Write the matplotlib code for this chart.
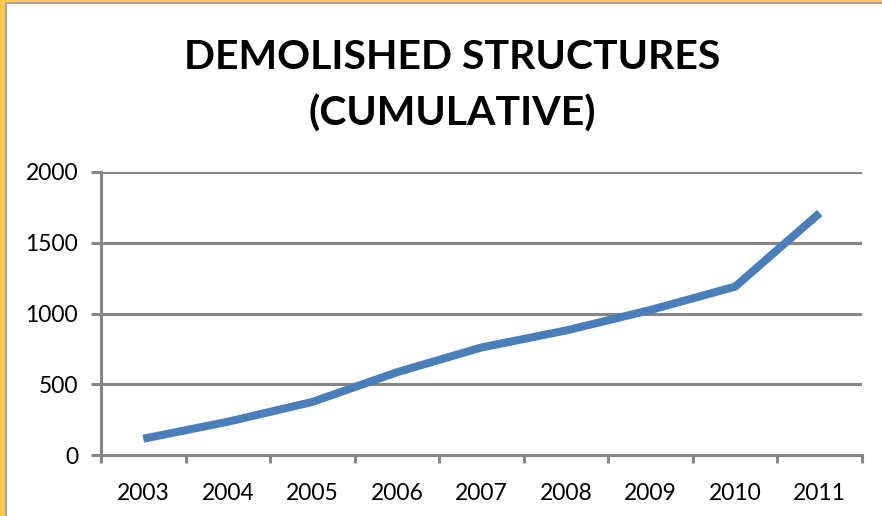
import matplotlib
matplotlib.use("Agg")
import matplotlib.pyplot as plt
from matplotlib.patches import Rectangle

years = ["2003", "2004", "2005", "2006", "2007", "2008", "2009", "2010", "2011"]
values = [115, 235, 375, 585, 760, 880, 1025, 1190, 1710]
yticks = [0, 500, 1000, 1500, 2000]
title = "DEMOLISHED STRUCTURES\n(CUMULATIVE)"

W, H = 882, 516
fig = plt.figure(figsize=(W / 100, H / 100), dpi=100)
fig.patch.set_facecolor("white")

# frame (yellow + gray at left and top)
fig.patches.append(Rectangle((0, 0), 5 / W, 1, transform=fig.transFigure,
                             facecolor="#FFC94A", edgecolor="none", zorder=0))
fig.patches.append(Rectangle((5 / W, 0), 2 / W, 1 - 2 / H, transform=fig.transFigure,
                             facecolor="#A6A6A6", edgecolor="none", zorder=0))
fig.patches.append(Rectangle((0, 1 - 2 / H), 1, 2 / H, transform=fig.transFigure,
                             facecolor="#FFC94A", edgecolor="none", zorder=0))
fig.patches.append(Rectangle((5 / W, 1 - 4 / H), 1, 2 / H, transform=fig.transFigure,
                             facecolor="#A6A6A6", edgecolor="none", zorder=0))

left, right, bottom, top = 101, 862, 455, 172
ax = fig.add_axes([left / W, (H - bottom) / H, (right - left) / W, (bottom - top) / H])

gray = "#868686"
x = list(range(len(years)))
ax.plot(x, values, color="#4A7EBB", lw=5.8, solid_capstyle="butt", solid_joinstyle="miter", zorder=3)

ax.set_xlim(-0.5, len(years) - 0.5)
ax.set_ylim(0, 2000)
ax.set_yticks(yticks)
ax.set_yticklabels([str(v) for v in yticks])
ax.yaxis.grid(True, color=gray, lw=2.2)
ax.set_axisbelow(True)

ax.set_xticks([i - 0.5 for i in range(len(years) + 1)])
ax.set_xticklabels([])
ax.set_xticks(x, minor=True)
ax.set_xticklabels(years, minor=True)

for s in ["top", "right"]:
    ax.spines[s].set_visible(False)
for s in ["left", "bottom"]:
    ax.spines[s].set_color(gray)
    ax.spines[s].set_linewidth(2.2)

ax.tick_params(axis="y", which="major", length=7.5, width=2.2, color=gray,
               labelsize=16.5, pad=9, labelfontfamily="Lato")
ax.tick_params(axis="x", which="major", length=6, width=2.2, color=gray)
ax.tick_params(axis="x", which="minor", length=0, labelsize=16.5, pad=20, labelfontfamily="Lato")

fig.text(452 / W, 1 - 39 / H, title, ha="center", va="top", fontsize=29.5,
         fontweight="bold", family="Lato", linespacing=1.6)

fig.savefig("out.png", dpi=100)
